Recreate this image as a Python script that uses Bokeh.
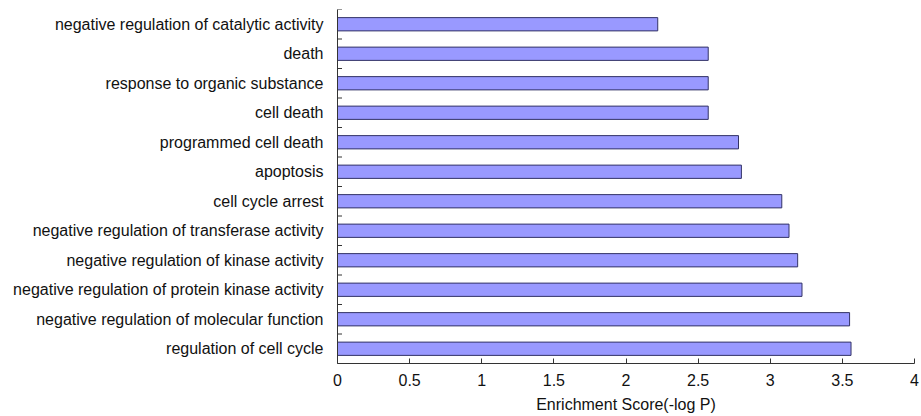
from bokeh.plotting import figure
from bokeh.embed import file_html
from bokeh.resources import INLINE
from bokeh.models import FixedTicker, ColumnDataSource

# top-to-bottom order as shown in the chart
terms = [
    "negative regulation of catalytic activity",
    "death",
    "response to organic substance",
    "cell death",
    "programmed cell death",
    "apoptosis",
    "cell cycle arrest",
    "negative regulation of transferase activity",
    "negative regulation of kinase activity",
    "negative regulation of protein kinase activity",
    "negative regulation of molecular function",
    "regulation of cell cycle",
]
scores = [2.22, 2.57, 2.57, 2.57, 2.78, 2.80, 3.08, 3.13, 3.19, 3.22, 3.55, 3.56]
x_ticks = [0, 0.5, 1, 1.5, 2, 2.5, 3, 3.5, 4]

factors = list(reversed(terms))  # Bokeh lists factors bottom-to-top

p = figure(
    width=920, height=416,
    y_range=factors, x_range=(0, 4),
    output_backend="svg", toolbar_location=None,
    min_border_left=337, min_border_right=6, min_border_top=9, min_border_bottom=53,
)
p.outline_line_color = None
p.grid.grid_line_color = None
p.background_fill_color = "white"

src = ColumnDataSource(dict(term=terms, score=scores))
p.hbar(y="term", right="score", left=0, height=0.45, source=src,
       fill_color="#9999ff", line_color="#333366", line_width=1)

# category boundary ticks on the y axis (pointing inward)
bounds = [(f, -0.5) for f in factors] + [(factors[-1], 0.5)]
p.scatter(x=[0] * len(bounds), y=bounds, marker="dash", size=9,
          line_color="#333333", line_width=1)

font = "Liberation Sans"
xa = p.xaxis[0]
xa.ticker = FixedTicker(ticks=x_ticks)
xa.major_tick_in = 5
xa.major_tick_out = 0
xa.minor_tick_line_color = None
xa.major_label_standoff = 10
xa.major_label_text_font = font
xa.major_label_text_font_size = "16px"
xa.major_label_text_color = "#111111"
xa.axis_line_color = "#333333"
xa.major_tick_line_color = "#333333"
xa.axis_label = "Enrichment Score(-log P)"
xa.axis_label_text_font = font
xa.axis_label_text_font_size = "16px"
xa.axis_label_text_font_style = "normal"
xa.axis_label_text_color = "#111111"
xa.axis_label_standoff = 7

ya = p.yaxis[0]
ya.major_tick_in = 0
ya.major_tick_out = 0
ya.major_tick_line_color = None
ya.major_label_standoff = 14
ya.major_label_text_font = font
ya.major_label_text_font_size = "16px"
ya.major_label_text_color = "#111111"
ya.axis_line_color = "#333333"

open("out.html", "w").write(file_html(p, INLINE))
